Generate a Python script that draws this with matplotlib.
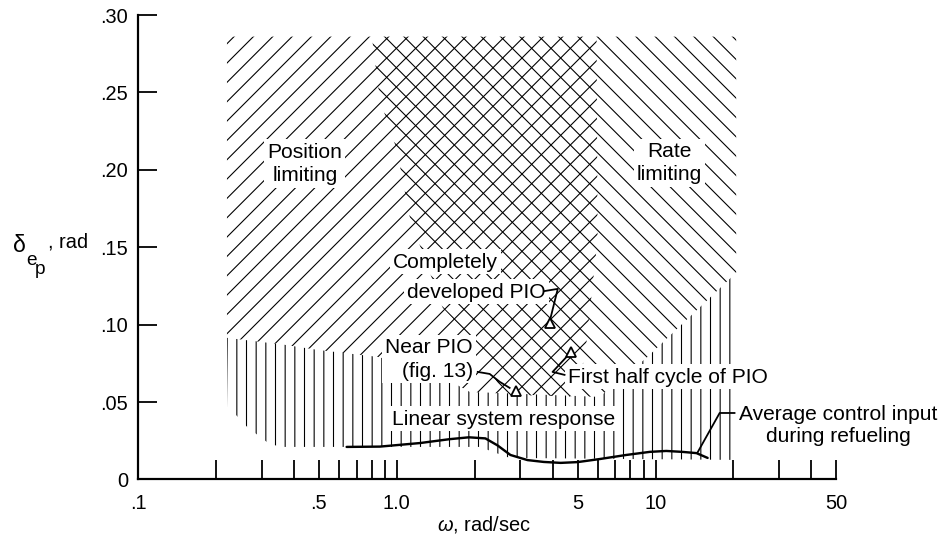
import matplotlib
matplotlib.use("Agg")
import matplotlib.pyplot as plt

DPI = 58


def pt(v):
    # pixel size -> points at the working dpi
    return v * 72 / DPI


plt.rcParams['font.family'] = ['Liberation Sans', 'DejaVu Sans']
plt.rcParams['mathtext.fontset'] = 'custom'
plt.rcParams['mathtext.rm'] = 'Liberation Sans'
plt.rcParams['mathtext.it'] = 'Liberation Sans:italic'
plt.rcParams['hatch.linewidth'] = pt(1.1)
plt.rcParams['hatch.color'] = 'black'

# average control input during refueling: frequency (rad/sec) vs amplitude (rad)
refuel_freq = [0.64, 0.86, 1.23, 1.6, 1.9, 2.2, 2.45, 2.75, 3.2, 3.7, 4.3, 5.0,
               6.1, 7.7, 9.5, 11.0, 12.7, 14.4, 15.9]
refuel_amp = [0.021, 0.0212, 0.0235, 0.026, 0.0272, 0.0265, 0.022, 0.0158, 0.0125,
              0.0113, 0.0107, 0.0112, 0.0132, 0.0158, 0.0178, 0.0184, 0.0178, 0.0170, 0.0139]

# PIO points: completely developed, near PIO (fig. 13), first half cycle
pio_freq = [3.9, 2.88, 4.7]
pio_amp = [0.101, 0.057, 0.082]

# region outlines
position_freq = [0.2206, 5.92, 5.97, 5.32, 4.66, 1.914, 1.574, 1.205, 0.845, 0.495, 0.369, 0.2206]
position_amp = [0.2858, 0.2858, 0.1547, 0.0772, 0.0533, 0.0565, 0.0643, 0.072, 0.0791, 0.0836, 0.0869, 0.0914]

rate_freq = [0.801, 0.860, 1.0, 1.122, 1.205, 1.505, 1.914, 2.286, 2.61, 6.08, 9.23, 20.5, 20.5]
rate_amp = [0.2858, 0.2451, 0.2128, 0.1695, 0.1547, 0.1108, 0.092, 0.0707, 0.0546, 0.0533, 0.0785, 0.1334, 0.2858]

linear_freq = [0.2206, 0.369, 0.495, 0.845, 1.205, 1.574, 1.914, 6.08, 9.23, 20.5, 20.5,
               2.73, 2.09, 0.354, 0.318, 0.290, 0.266, 0.243, 0.2226]
linear_amp = [0.0914, 0.0869, 0.0836, 0.0791, 0.072, 0.0643, 0.0565, 0.0533, 0.0785, 0.1334, 0.0126,
              0.0139, 0.021, 0.021, 0.0236, 0.0287, 0.0333, 0.0404, 0.0468]

xtick_vals = [0.1, 0.5, 1.0, 5, 10, 50]
xtick_labels = ['.1', '.5', '1.0', '5', '10', '50']
xminor_vals = [0.2, 0.3, 0.4, 0.6, 0.7, 0.8, 0.9, 2, 3, 4, 6, 7, 8, 9, 20, 30, 40]
ytick_vals = [0, 0.05, 0.10, 0.15, 0.20, 0.25, 0.30]
ytick_labels = ['0', '.05', '.10', '.15', '.20', '.25', '.30']

W, H = 943, 537
fig = plt.figure(figsize=((W + 0.4) / DPI, (H + 0.4) / DPI), dpi=DPI)
ax = fig.add_axes([138 / W, 57.5 / H, 698 / W, 464.5 / H])
ax.set_xscale('log')
ax.set_xlim(0.1, 50)
ax.set_ylim(0, 0.30)

ax.fill(position_freq, position_amp, facecolor='none', edgecolor='black', linewidth=0, hatch='/')
ax.fill(rate_freq, rate_amp, facecolor='none', edgecolor='black', linewidth=0, hatch='\\')
ax.fill(linear_freq, linear_amp, facecolor='none', edgecolor='black', linewidth=0, hatch='|')

ax.plot(refuel_freq, refuel_amp, color='black', lw=pt(2.4), solid_capstyle='round', zorder=4)

fs = pt(21)
box = dict(facecolor='white', edgecolor='none', pad=pt(3))
ax.text(0.441, 0.2038, 'Position\nlimiting', ha='center', va='center', fontsize=fs,
        linespacing=1.3, bbox=box, zorder=3)
ax.text(11.32, 0.2044, 'Rate\nlimiting', ha='center', va='center', fontsize=fs,
        linespacing=1.3, bbox=box, zorder=3)
ax.text(1.546, 0.1405, 'Completely', ha='center', va='center', fontsize=fs, bbox=box, zorder=3)
ax.text(2.036, 0.1211, 'developed PIO', ha='center', va='center', fontsize=fs, bbox=box, zorder=3)
ax.text(1.965, 0.0778, 'Near PIO\n(fig. 13)', ha='right', va='center', ma='right', fontsize=fs,
        linespacing=1.3, bbox=box, zorder=3)
ax.text(4.57, 0.0662, 'First half cycle of PIO', ha='left', va='center', fontsize=fs,
        bbox=box, zorder=3)
ax.text(2.59, 0.0391, 'Linear system response', ha='center', va='center', fontsize=fs,
        bbox=box, zorder=3)
ax.text(21.1, 0.0352, 'Average control input\nduring refueling', ha='left', va='center',
        ma='center', fontsize=fs, linespacing=1.2, zorder=3)

# leader lines from the labels
leader = dict(color='black', lw=pt(1.8), zorder=4)
ax.plot([3.73, 4.19, 3.93], [0.1216, 0.1230, 0.1043], **leader)
ax.plot([2.055, 2.286, 2.50, 2.73], [0.0694, 0.0681, 0.063, 0.0591], **leader)
ax.plot([4.45, 4.0, 4.53], [0.0675, 0.0694, 0.0791], **leader)
ax.plot([20.2, 17.7, 14.5], [0.0429, 0.0429, 0.0171], **leader)

ax.plot(pio_freq, pio_amp, linestyle='none', marker='^', ms=pt(10), mfc='white',
        mec='black', mew=pt(1.8), zorder=5)

for side in ['top', 'right']:
    ax.spines[side].set_visible(False)
for side in ['left', 'bottom']:
    ax.spines[side].set_linewidth(pt(2.2))

ax.set_xticks(xtick_vals, xtick_labels)
ax.set_xticks(xminor_vals, [''] * len(xminor_vals), minor=True)
ax.set_yticks(ytick_vals, ytick_labels)
ax.tick_params(axis='both', which='both', direction='in', length=pt(19), width=pt(1.8),
               labelsize=pt(20))
ax.tick_params(axis='x', which='both', pad=pt(14))
ax.tick_params(axis='y', pad=pt(10))

ax.set_xlabel(r'$\omega$, rad/sec', fontsize=pt(20), ha='left', va='baseline')
ax.xaxis.set_label_coords(0.4284, -0.1087)

# elevator deflection symbol with stacked subscripts
fig.text(12.5 / W, 1 - 252 / H, '\u03b4', fontsize=pt(23), va='baseline')
fig.text(26 / W, 1 - 265 / H, 'e', fontsize=pt(19), va='baseline')
fig.text(35 / W, 1 - 274 / H, 'p', fontsize=pt(19), va='baseline')
fig.text(48 / W, 1 - 247 / H, ', rad', fontsize=pt(20), va='baseline')

fig.savefig('out.png', dpi=DPI)
